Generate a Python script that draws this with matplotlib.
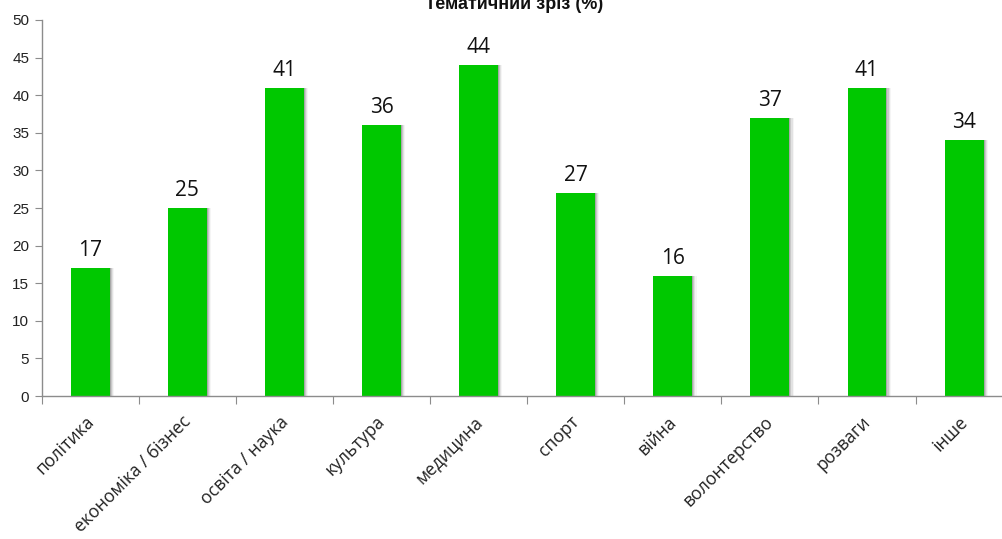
import matplotlib.pyplot as plt
import matplotlib.transforms as mtransforms
import numpy as np

plt.rcParams['font.family'] = ['Liberation Sans', 'DejaVu Sans']

categories = ['політика', 'економіка / бізнес', 'освіта / наука', 'культура', 'медицина',
              'спорт', 'війна', 'волонтерство', 'розваги', 'інше']
values = [17, 25, 41, 36, 44, 27, 16, 37, 41, 34]
yticks = [0, 5, 10, 15, 20, 25, 30, 35, 40, 45, 50]
title = 'Тематичний зріз (%)'

green = '#00c800'
axis_grey = '#8c8c8c'

fig = plt.figure(figsize=(10.03, 5.39), dpi=100)
# plot area runs past the right edge of the canvas
ax = fig.add_axes([0.0416, 0.2653, 0.968, 0.6976])

x = np.arange(len(categories))
width = 0.40

# soft shadow on the right of each bar
for k, a in enumerate([0.30, 0.20, 0.12, 0.06]):
    off = (k + 1) * 0.011
    ax.bar(x + off, values, width, color='#606060', alpha=a, linewidth=0, zorder=1)
ax.bar(x, values, width, color=green, linewidth=0, zorder=2)

for xi, v in zip(x, values):
    ax.annotate(str(v), (xi, v), xytext=(0, 5), textcoords='offset points',
                ha='center', va='bottom', fontsize=15, family=['Open Sans', 'DejaVu Sans'],
                color='#111111')

ax.set_xlim(-0.5, len(categories) - 0.5)
ax.set_ylim(0, 50)
ax.set_yticks(yticks)
ax.set_yticklabels([str(t) for t in yticks], fontsize=11, color='#222222')
ax.tick_params(axis='y', length=5, width=0.8, color=axis_grey, pad=4)

ax.set_xticks(np.arange(len(categories) + 1) - 0.5)
ax.set_xticklabels([])
ax.tick_params(axis='x', length=6, width=0.8, color=axis_grey)

for s in ['top', 'right']:
    ax.spines[s].set_visible(False)
for s in ['left', 'bottom']:
    ax.spines[s].set_color(axis_grey)
    ax.spines[s].set_linewidth(1.0)

# rotated category labels
shift = mtransforms.ScaledTranslation(1 / 100, -23 / 100, fig.dpi_scale_trans)
for xi, lab in zip(x, categories):
    ax.text(xi, 0, lab, transform=ax.get_xaxis_transform() + shift, rotation=45,
            rotation_mode='anchor', ha='right', va='center', fontsize=12.7,
            family=['Open Sans', 'DejaVu Sans'], color='#222222')

fig.text(0.513, 0.992, title, ha='center', va='center', fontsize=13, fontweight='bold',
         color='#111111')

fig.savefig('out.png', dpi=100)
